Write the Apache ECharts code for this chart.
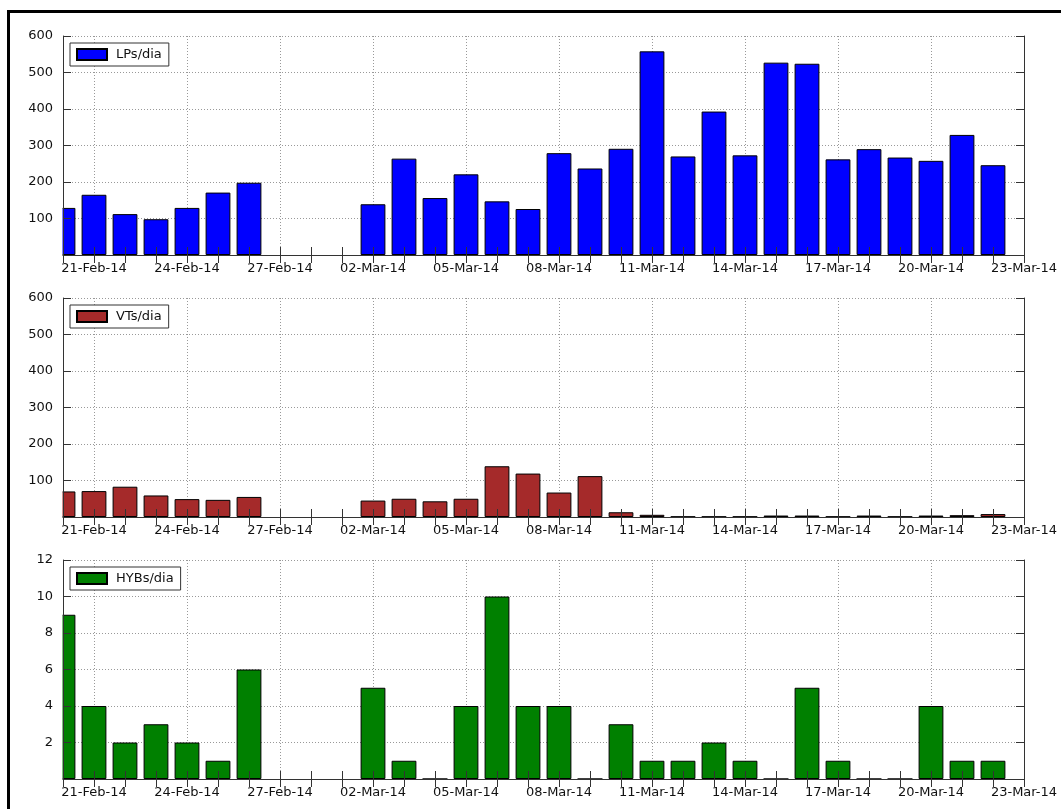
<!DOCTYPE html>
<html>
<head>
    <meta charset="utf-8">
    <title>ECharts</title>
    <script src="https://cdn.jsdelivr.net/npm/echarts@6/dist/echarts.min.js"></script>
    <style>
        html, body { margin: 0; padding: 0; background: #fff; }
    </style>
</head>
<body>
    <div id="main" style="width: 1061px;height:809px;"></div>
    <script type="text/javascript">
        var myChart = echarts.init(document.getElementById('main'));

        // one category per day, 20-Feb-14 .. 23-Mar-14
        var dates = ['20-Feb-14', '21-Feb-14', '22-Feb-14', '23-Feb-14', '24-Feb-14', '25-Feb-14',
            '26-Feb-14', '27-Feb-14', '28-Feb-14', '01-Mar-14', '02-Mar-14', '03-Mar-14', '04-Mar-14',
            '05-Mar-14', '06-Mar-14', '07-Mar-14', '08-Mar-14', '09-Mar-14', '10-Mar-14', '11-Mar-14',
            '12-Mar-14', '13-Mar-14', '14-Mar-14', '15-Mar-14', '16-Mar-14', '17-Mar-14', '18-Mar-14',
            '19-Mar-14', '20-Mar-14', '21-Mar-14', '22-Mar-14', '23-Mar-14'];

        var lpsDia = [129, 165, 112, 98, 129, 171, 198, null, null, null,
            139, 264, 156, 221, 147, 126, 279, 237, 291, 558, 270,
            393, 273, 527, 524, 262, 290, 267, 258, 329, 246];
        var vtsDia = [70, 71, 83, 59, 49, 47, 55, null, null, null,
            45, 50, 43, 50, 139, 119, 67, 112, 13, 6, 1,
            1, 1, 4, 4, 1, 4, 1, 4, 5, 8];
        var hybsDia = [9, 4, 2, 3, 2, 1, 6, null, null, null,
            5, 1, 0, 4, 10, 4, 4, 0, 3, 1, 1,
            2, 1, 0, 5, 1, 0, 0, 4, 1, 1];

        var seriesNames = ['LPs/dia', 'VTs/dia', 'HYBs/dia'];
        var seriesColors = ['#0000ff', '#a52a2a', '#008000'];
        var seriesData = [lpsDia, vtsDia, hybsDia];
        var yMax = [600, 600, 12];
        var yStep = [100, 100, 2];

        var gridTops = [36, 298, 560];
        var gridHeight = 219;
        var font = 'DejaVu Sans';
        var edge = '#333';
        var gridLine = { color: '#999', type: [1, 2], width: 1 };

        function major(idx) { return idx % 3 === 1; }

        var grids = [], xAxes = [], yAxes = [], legends = [], series = [], graphics = [];
        for (var i = 0; i < 3; i++) {
            grids.push({ left: 63, right: 37, top: gridTops[i], height: gridHeight });

            // bottom axis: labels + ticks, drawn over the bars
            xAxes.push({
                gridIndex: i, type: 'category', position: 'bottom', data: dates,
                boundaryGap: false, z: 5,
                axisLine: { lineStyle: { color: edge, width: 1 } },
                axisTick: { inside: true, length: 8, interval: 0, lineStyle: { color: edge } },
                axisLabel: { interval: major, margin: 7, color: '#111', fontFamily: font, fontSize: 13 },
                splitLine: { show: false }
            });
            // top axis: ticks + vertical dotted grid
            xAxes.push({
                gridIndex: i, type: 'category', position: 'top', data: dates,
                boundaryGap: false,
                axisLine: { lineStyle: { color: edge, width: 1 } },
                axisTick: { inside: true, length: 8, interval: 0, lineStyle: { color: edge } },
                axisLabel: { show: false },
                splitLine: { show: true, interval: major, lineStyle: gridLine }
            });
            yAxes.push({
                gridIndex: i, type: 'value', position: 'left', min: 0, max: yMax[i], interval: yStep[i], z: 5,
                axisLine: { show: true, lineStyle: { color: edge, width: 1 } },
                axisTick: { show: true, inside: true, length: 8, lineStyle: { color: edge } },
                axisLabel: { showMinLabel: false, margin: 10, color: '#111', fontFamily: font, fontSize: 13 },
                splitLine: { show: false }
            });
            yAxes.push({
                gridIndex: i, type: 'value', position: 'right', min: 0, max: yMax[i], interval: yStep[i],
                axisLine: { show: true, lineStyle: { color: edge, width: 1 } },
                axisTick: { show: true, inside: true, length: 8, lineStyle: { color: edge } },
                axisLabel: { show: false },
                splitLine: { show: true, lineStyle: gridLine }
            });

            legends.push({
                data: [seriesNames[i]], left: 70, top: gridTops[i] + 7,
                orient: 'vertical', icon: 'rect', itemWidth: 30, itemHeight: 11,
                padding: [5, 7, 5, 6],
                backgroundColor: '#fff', borderColor: edge, borderWidth: 1, borderRadius: 0,
                textStyle: { color: '#111', fontFamily: font, fontSize: 13, padding: [0, 0, 0, 4] },
                selectedMode: false
            });

            series.push({
                name: seriesNames[i], type: 'bar',
                xAxisIndex: i * 2, yAxisIndex: i * 2,
                data: seriesData[i], barWidth: '80%', clip: true,
                itemStyle: { color: seriesColors[i], borderColor: '#000', borderWidth: 1 },
                emphasis: { disabled: true }
            });

            // white mask left of each plot so the first (half) bar is cut at the spine
            graphics.push({
                type: 'rect', z: 3, silent: true,
                shape: { x: 36, y: gridTops[i] - 2, width: 26.5, height: gridHeight + 4 },
                style: { fill: '#fff' }
            });
        }

        // heavy figure frame, runs off the right and bottom edges
        graphics.push({
            type: 'rect', z: 100, silent: true,
            shape: { x: 8.5, y: 11.5, width: 1200, height: 1000 },
            style: { fill: null, stroke: '#000', lineWidth: 3 }
        });

        option = {
            animation: false,
            backgroundColor: '#fff',
            textStyle: { fontFamily: font },
            graphic: graphics,
            grid: grids,
            legend: legends,
            xAxis: xAxes,
            yAxis: yAxes,
            series: series
        };

        myChart.setOption(option);
    </script>
</body>
</html>
